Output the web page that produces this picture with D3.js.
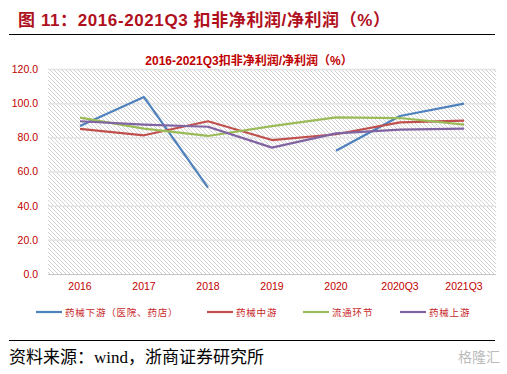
<!DOCTYPE html>
<html>
<head>
<meta charset="utf-8">
<script src="https://cdn.jsdelivr.net/npm/d3@7.9.0/dist/d3.min.js"></script>
<style>
  body { margin: 0; background: #fff; }
  svg { display: block; }
</style>
</head>
<body>
<div id="chart"></div>
<script>
// categories and series
const categories = ["2016", "2017", "2018", "2019", "2020", "2020Q3", "2021Q3"];
const downstream = [86.7, 103.6, 50.5, null, 72.2, 92.5, 99.7];   // 药械下游（医院、药店）
const midstream  = [84.9, 81.2, 89.4, 78.4, 81.8, 88.8, 89.8];     // 药械中游
const circulation = [91.5, 85.1, 80.8, 86.6, 91.7, 91.3, 87.4];    // 流通环节
const upstream   = [89.4, 87.4, 86.2, 74.0, 82.3, 84.5, 85.1];     // 药械上游
const yTicks = [0, 20, 40, 60, 80, 100, 120];

const seriesNames = ["药械下游（医院、药店）", "药械中游", "流通环节", "药械上游"];
const seriesValues = [downstream, midstream, circulation, upstream];
const colors = ["#4F81BD", "#C0504D", "#9BBB59", "#8064A2"];

const width = 507, height = 374;
const margin = {top: 69, right: 11, bottom: 100, left: 48};
const red = "#C00000";
const sans = "'Liberation Sans', Arial, 'Noto Sans CJK SC', sans-serif";

const svg = d3.select("#chart").append("svg")
    .attr("width", width)
    .attr("height", height)
    .attr("viewBox", [0, 0, width, height]);

// hatch fill of the plot area
const defs = svg.append("defs");
const pat = defs.append("pattern")
    .attr("id", "hatch")
    .attr("patternUnits", "userSpaceOnUse")
    .attr("width", 4).attr("height", 4);
pat.append("path")
    .attr("d", "M-1,-1 L5,5 M-1,3 L1,5 M3,-1 L5,1")
    .attr("stroke", "#cccccc")
    .attr("stroke-width", 0.9);

// header
svg.append("text")
    .attr("x", 18).attr("y", 26)
    .attr("fill", "#B0101E")
    .attr("font-family", sans)
    .attr("font-weight", "bold")
    .attr("font-size", 17)
    .attr("letter-spacing", 0.6)
    .text("图 11：2016-2021Q3 扣非净利润/净利润（%）");

svg.append("line")
    .attr("x1", 9).attr("x2", 495)
    .attr("y1", 34.5).attr("y2", 34.5)
    .attr("stroke", "#000").attr("stroke-width", 1.2);

const x = d3.scaleBand()
    .domain(categories)
    .range([margin.left, width - margin.right]);

const y = d3.scaleLinear()
    .domain([0, 120])
    .range([height - margin.bottom, margin.top]);

svg.append("rect")
    .attr("x", margin.left).attr("y", margin.top)
    .attr("width", x.range()[1] - margin.left)
    .attr("height", y(0) - margin.top)
    .attr("fill", "url(#hatch)");

// chart title
svg.append("text")
    .attr("x", 249).attr("y", 65)
    .attr("text-anchor", "middle")
    .attr("fill", red)
    .attr("font-family", sans)
    .attr("font-weight", "bold")
    .attr("font-size", 12)
    .text("2016-2021Q3扣非净利润/净利润（%）");

// y axis with gridlines
svg.append("g")
    .attr("transform", `translate(${margin.left},0)`)
    .call(d3.axisLeft(y).tickValues(yTicks).tickFormat(d3.format(".1f")).tickSize(0).tickPadding(10))
    .call(g => g.select(".domain").remove())
    .call(g => g.selectAll(".tick text")
        .attr("fill", red)
        .attr("font-family", sans)
        .attr("font-size", 10.5))
    .call(g => g.selectAll(".tick line").clone()
        .attr("x2", x.range()[1] - margin.left)
        .attr("stroke", d => d === 0 ? "#c8c8c8" : "#e4e4e4")
        .attr("stroke-width", d => d === 0 ? 1.2 : 1.5));

// x axis
svg.append("g")
    .attr("transform", `translate(0,${y(0)})`)
    .call(d3.axisBottom(x).tickSize(0).tickPadding(9))
    .call(g => g.select(".domain").remove())
    .call(g => g.selectAll(".tick text")
        .attr("fill", red)
        .attr("font-family", sans)
        .attr("font-size", 10.5));

// lines
const line = d3.line()
    .defined(d => d != null)
    .x((d, i) => x(categories[i]) + x.bandwidth() / 2)
    .y(d => y(d));

seriesValues.forEach((vals, k) => {
  svg.append("path")
      .attr("fill", "none")
      .attr("stroke", colors[k])
      .attr("stroke-width", 2.2)
      .attr("stroke-linejoin", "round")
      .attr("d", line(vals));
});

// legend
const legendX = [36, 207, 303, 400];
seriesNames.forEach((name, k) => {
  const g = svg.append("g").attr("transform", `translate(${legendX[k]},312)`);
  g.append("line")
      .attr("x1", 0).attr("x2", 26)
      .attr("stroke", colors[k]).attr("stroke-width", 2.2);
  g.append("text")
      .attr("x", 29).attr("y", 4)
      .attr("fill", "#C8282A")
      .attr("font-family", "'Noto Sans CJK SC', sans-serif")
      .attr("font-size", 9.5)
      .attr("letter-spacing", 0.8)
      .text(name);
});

// source
svg.append("line")
    .attr("x1", 9).attr("x2", 495)
    .attr("y1", 340.5).attr("y2", 340.5)
    .attr("stroke", "#000").attr("stroke-width", 1);

svg.append("text")
    .attr("x", 9).attr("y", 363)
    .attr("fill", "#000")
    .attr("font-family", "'Liberation Serif', 'Noto Sans CJK SC', serif")
    .attr("font-size", 17)
    .text("资料来源：wind，浙商证券研究所");

// faint watermark
svg.append("text")
    .attr("x", 500).attr("y", 362)
    .attr("text-anchor", "end")
    .attr("fill", "#bbb")
    .attr("font-family", "'Noto Sans CJK SC', sans-serif")
    .attr("font-size", 14)
    .text("格隆汇");
</script>
</body>
</html>
